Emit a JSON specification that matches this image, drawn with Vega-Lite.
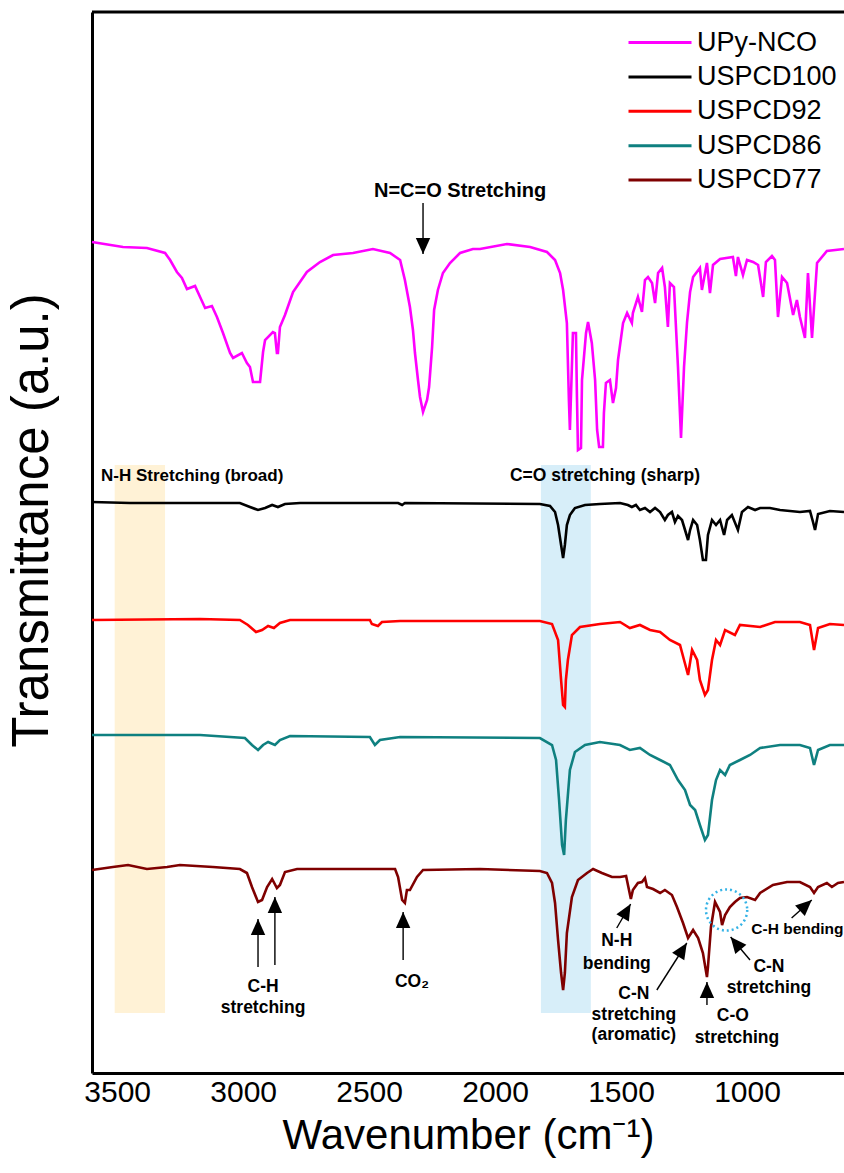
{
  "$schema": "https://vega.github.io/schema/vega-lite/v6.json",
  "width": 752,
  "height": 1061,
  "autosize": {"type": "none"},
  "padding": {"left": 92, "top": 12, "right": 0, "bottom": 100},
  "config": {
    "view": {"stroke": null},
    "font": "Liberation Sans",
    "axis": {"grid": false, "ticks": false, "domainColor": "#000000", "domainWidth": 3, "labelColor": "#000000", "titleColor": "#000000", "labelFont": "Liberation Sans", "titleFont": "Liberation Sans", "titleFontWeight": "normal"}
  },
  "datasets": {
    "spectra": [
      {"s":"UPy-NCO","w":3600,"t":83.1},{"s":"UPy-NCO","w":3477,"t":82.6},{"s":"UPy-NCO","w":3382,"t":82.5},{"s":"UPy-NCO","w":3310,"t":82.0},{"s":"UPy-NCO","w":3290,"t":81.3},{"s":"UPy-NCO","w":3263,"t":80.1},{"s":"UPy-NCO","w":3243,"t":79.5},{"s":"UPy-NCO","w":3223,"t":78.4},{"s":"UPy-NCO","w":3191,"t":78.7},{"s":"UPy-NCO","w":3171,"t":77.6},{"s":"UPy-NCO","w":3151,"t":76.5},{"s":"UPy-NCO","w":3124,"t":76.7},{"s":"UPy-NCO","w":3104,"t":75.6},{"s":"UPy-NCO","w":3080,"t":74.0},{"s":"UPy-NCO","w":3052,"t":72.0},{"s":"UPy-NCO","w":3040,"t":71.5},{"s":"UPy-NCO","w":3005,"t":72.0},{"s":"UPy-NCO","w":2985,"t":71.0},{"s":"UPy-NCO","w":2973,"t":70.6},{"s":"UPy-NCO","w":2961,"t":69.1},{"s":"UPy-NCO","w":2933,"t":69.1},{"s":"UPy-NCO","w":2921,"t":72.1},{"s":"UPy-NCO","w":2913,"t":73.3},{"s":"UPy-NCO","w":2882,"t":74.1},{"s":"UPy-NCO","w":2874,"t":74.0},{"s":"UPy-NCO","w":2866,"t":72.0},{"s":"UPy-NCO","w":2862,"t":72.0},{"s":"UPy-NCO","w":2854,"t":74.6},{"s":"UPy-NCO","w":2834,"t":75.8},{"s":"UPy-NCO","w":2802,"t":78.1},{"s":"UPy-NCO","w":2747,"t":80.1},{"s":"UPy-NCO","w":2695,"t":81.1},{"s":"UPy-NCO","w":2643,"t":81.8},{"s":"UPy-NCO","w":2564,"t":82.0},{"s":"UPy-NCO","w":2485,"t":82.4},{"s":"UPy-NCO","w":2417,"t":82.0},{"s":"UPy-NCO","w":2377,"t":81.3},{"s":"UPy-NCO","w":2358,"t":79.3},{"s":"UPy-NCO","w":2338,"t":76.6},{"s":"UPy-NCO","w":2326,"t":74.3},{"s":"UPy-NCO","w":2318,"t":72.0},{"s":"UPy-NCO","w":2306,"t":69.3},{"s":"UPy-NCO","w":2298,"t":67.6},{"s":"UPy-NCO","w":2286,"t":66.1},{"s":"UPy-NCO","w":2270,"t":67.3},{"s":"UPy-NCO","w":2262,"t":68.6},{"s":"UPy-NCO","w":2250,"t":72.6},{"s":"UPy-NCO","w":2242,"t":76.3},{"s":"UPy-NCO","w":2227,"t":78.3},{"s":"UPy-NCO","w":2207,"t":80.0},{"s":"UPy-NCO","w":2179,"t":81.0},{"s":"UPy-NCO","w":2139,"t":82.0},{"s":"UPy-NCO","w":2088,"t":82.4},{"s":"UPy-NCO","w":2060,"t":82.4},{"s":"UPy-NCO","w":1953,"t":82.9},{"s":"UPy-NCO","w":1861,"t":82.6},{"s":"UPy-NCO","w":1794,"t":82.1},{"s":"UPy-NCO","w":1762,"t":81.3},{"s":"UPy-NCO","w":1742,"t":80.0},{"s":"UPy-NCO","w":1730,"t":78.3},{"s":"UPy-NCO","w":1715,"t":75.0},{"s":"UPy-NCO","w":1707,"t":67.3},{"s":"UPy-NCO","w":1703,"t":64.3},{"s":"UPy-NCO","w":1691,"t":74.0},{"s":"UPy-NCO","w":1679,"t":74.0},{"s":"UPy-NCO","w":1675,"t":67.6},{"s":"UPy-NCO","w":1671,"t":62.3},{"s":"UPy-NCO","w":1659,"t":62.5},{"s":"UPy-NCO","w":1655,"t":69.3},{"s":"UPy-NCO","w":1639,"t":74.0},{"s":"UPy-NCO","w":1631,"t":75.1},{"s":"UPy-NCO","w":1616,"t":73.0},{"s":"UPy-NCO","w":1603,"t":69.3},{"s":"UPy-NCO","w":1595,"t":64.3},{"s":"UPy-NCO","w":1587,"t":62.6},{"s":"UPy-NCO","w":1572,"t":62.6},{"s":"UPy-NCO","w":1568,"t":66.0},{"s":"UPy-NCO","w":1560,"t":69.0},{"s":"UPy-NCO","w":1544,"t":69.3},{"s":"UPy-NCO","w":1532,"t":67.0},{"s":"UPy-NCO","w":1520,"t":68.5},{"s":"UPy-NCO","w":1512,"t":71.3},{"s":"UPy-NCO","w":1492,"t":75.0},{"s":"UPy-NCO","w":1476,"t":76.0},{"s":"UPy-NCO","w":1457,"t":75.0},{"s":"UPy-NCO","w":1453,"t":76.0},{"s":"UPy-NCO","w":1433,"t":77.6},{"s":"UPy-NCO","w":1417,"t":76.1},{"s":"UPy-NCO","w":1405,"t":79.3},{"s":"UPy-NCO","w":1393,"t":79.6},{"s":"UPy-NCO","w":1377,"t":79.0},{"s":"UPy-NCO","w":1365,"t":77.0},{"s":"UPy-NCO","w":1353,"t":80.0},{"s":"UPy-NCO","w":1337,"t":80.5},{"s":"UPy-NCO","w":1326,"t":78.6},{"s":"UPy-NCO","w":1314,"t":74.6},{"s":"UPy-NCO","w":1306,"t":79.0},{"s":"UPy-NCO","w":1290,"t":78.6},{"s":"UPy-NCO","w":1274,"t":70.6},{"s":"UPy-NCO","w":1262,"t":63.5},{"s":"UPy-NCO","w":1250,"t":70.6},{"s":"UPy-NCO","w":1238,"t":75.1},{"s":"UPy-NCO","w":1226,"t":78.1},{"s":"UPy-NCO","w":1214,"t":79.6},{"s":"UPy-NCO","w":1187,"t":80.5},{"s":"UPy-NCO","w":1179,"t":78.3},{"s":"UPy-NCO","w":1159,"t":81.0},{"s":"UPy-NCO","w":1147,"t":78.0},{"s":"UPy-NCO","w":1135,"t":80.8},{"s":"UPy-NCO","w":1107,"t":81.4},{"s":"UPy-NCO","w":1056,"t":81.6},{"s":"UPy-NCO","w":1044,"t":79.7},{"s":"UPy-NCO","w":1036,"t":81.6},{"s":"UPy-NCO","w":1016,"t":79.8},{"s":"UPy-NCO","w":1000,"t":81.3},{"s":"UPy-NCO","w":976,"t":81.1},{"s":"UPy-NCO","w":956,"t":80.8},{"s":"UPy-NCO","w":936,"t":77.6},{"s":"UPy-NCO","w":925,"t":81.1},{"s":"UPy-NCO","w":901,"t":81.7},{"s":"UPy-NCO","w":889,"t":81.3},{"s":"UPy-NCO","w":877,"t":75.6},{"s":"UPy-NCO","w":861,"t":79.6},{"s":"UPy-NCO","w":841,"t":79.0},{"s":"UPy-NCO","w":817,"t":75.8},{"s":"UPy-NCO","w":802,"t":77.3},{"s":"UPy-NCO","w":790,"t":75.6},{"s":"UPy-NCO","w":770,"t":73.5},{"s":"UPy-NCO","w":758,"t":80.0},{"s":"UPy-NCO","w":742,"t":73.5},{"s":"UPy-NCO","w":722,"t":81.0},{"s":"UPy-NCO","w":683,"t":82.2},{"s":"UPy-NCO","w":615,"t":82.4},

      {"s":"USPCD100","w":3600,"t":57.1},{"s":"USPCD100","w":3449,"t":57.0},{"s":"USPCD100","w":3013,"t":57.0},{"s":"USPCD100","w":2973,"t":56.6},{"s":"USPCD100","w":2941,"t":56.3},{"s":"USPCD100","w":2913,"t":56.5},{"s":"USPCD100","w":2885,"t":56.8},{"s":"USPCD100","w":2862,"t":56.6},{"s":"USPCD100","w":2834,"t":56.9},{"s":"USPCD100","w":2774,"t":57.0},{"s":"USPCD100","w":2385,"t":57.0},{"s":"USPCD100","w":2369,"t":56.8},{"s":"USPCD100","w":2358,"t":57.0},{"s":"USPCD100","w":1822,"t":56.9},{"s":"USPCD100","w":1782,"t":56.7},{"s":"USPCD100","w":1762,"t":56.1},{"s":"USPCD100","w":1750,"t":54.8},{"s":"USPCD100","w":1738,"t":52.8},{"s":"USPCD100","w":1730,"t":51.5},{"s":"USPCD100","w":1723,"t":52.8},{"s":"USPCD100","w":1715,"t":54.8},{"s":"USPCD100","w":1703,"t":55.8},{"s":"USPCD100","w":1683,"t":56.5},{"s":"USPCD100","w":1643,"t":56.8},{"s":"USPCD100","w":1584,"t":56.9},{"s":"USPCD100","w":1504,"t":57.0},{"s":"USPCD100","w":1473,"t":56.8},{"s":"USPCD100","w":1457,"t":56.6},{"s":"USPCD100","w":1441,"t":56.8},{"s":"USPCD100","w":1425,"t":56.3},{"s":"USPCD100","w":1405,"t":56.5},{"s":"USPCD100","w":1385,"t":56.1},{"s":"USPCD100","w":1365,"t":56.5},{"s":"USPCD100","w":1345,"t":56.1},{"s":"USPCD100","w":1326,"t":55.3},{"s":"USPCD100","w":1314,"t":55.8},{"s":"USPCD100","w":1298,"t":56.1},{"s":"USPCD100","w":1286,"t":55.1},{"s":"USPCD100","w":1274,"t":55.7},{"s":"USPCD100","w":1258,"t":55.3},{"s":"USPCD100","w":1246,"t":54.3},{"s":"USPCD100","w":1234,"t":53.3},{"s":"USPCD100","w":1226,"t":54.3},{"s":"USPCD100","w":1214,"t":55.3},{"s":"USPCD100","w":1198,"t":54.8},{"s":"USPCD100","w":1187,"t":53.3},{"s":"USPCD100","w":1175,"t":51.3},{"s":"USPCD100","w":1163,"t":51.3},{"s":"USPCD100","w":1155,"t":53.8},{"s":"USPCD100","w":1139,"t":55.3},{"s":"USPCD100","w":1123,"t":54.8},{"s":"USPCD100","w":1107,"t":55.3},{"s":"USPCD100","w":1091,"t":53.8},{"s":"USPCD100","w":1079,"t":55.3},{"s":"USPCD100","w":1060,"t":55.8},{"s":"USPCD100","w":1036,"t":54.3},{"s":"USPCD100","w":1020,"t":56.1},{"s":"USPCD100","w":996,"t":56.6},{"s":"USPCD100","w":968,"t":56.3},{"s":"USPCD100","w":948,"t":56.5},{"s":"USPCD100","w":909,"t":56.5},{"s":"USPCD100","w":869,"t":56.3},{"s":"USPCD100","w":790,"t":56.1},{"s":"USPCD100","w":750,"t":56.2},{"s":"USPCD100","w":738,"t":55.1},{"s":"USPCD100","w":730,"t":54.3},{"s":"USPCD100","w":718,"t":55.9},{"s":"USPCD100","w":671,"t":56.2},{"s":"USPCD100","w":615,"t":56.1},

      {"s":"USPCD92","w":3600,"t":45.3},{"s":"USPCD92","w":3171,"t":45.4},{"s":"USPCD92","w":3013,"t":45.3},{"s":"USPCD92","w":2981,"t":44.8},{"s":"USPCD92","w":2949,"t":44.1},{"s":"USPCD92","w":2925,"t":44.3},{"s":"USPCD92","w":2901,"t":44.7},{"s":"USPCD92","w":2878,"t":44.5},{"s":"USPCD92","w":2854,"t":45.0},{"s":"USPCD92","w":2814,"t":45.3},{"s":"USPCD92","w":2497,"t":45.3},{"s":"USPCD92","w":2489,"t":44.9},{"s":"USPCD92","w":2465,"t":44.7},{"s":"USPCD92","w":2449,"t":45.1},{"s":"USPCD92","w":2377,"t":45.2},{"s":"USPCD92","w":1822,"t":45.2},{"s":"USPCD92","w":1774,"t":44.9},{"s":"USPCD92","w":1750,"t":43.3},{"s":"USPCD92","w":1738,"t":39.3},{"s":"USPCD92","w":1730,"t":36.8},{"s":"USPCD92","w":1723,"t":36.6},{"s":"USPCD92","w":1719,"t":39.3},{"s":"USPCD92","w":1711,"t":41.3},{"s":"USPCD92","w":1695,"t":43.8},{"s":"USPCD92","w":1663,"t":44.6},{"s":"USPCD92","w":1584,"t":44.9},{"s":"USPCD92","w":1504,"t":45.1},{"s":"USPCD92","w":1465,"t":44.5},{"s":"USPCD92","w":1425,"t":44.8},{"s":"USPCD92","w":1385,"t":44.3},{"s":"USPCD92","w":1345,"t":44.1},{"s":"USPCD92","w":1306,"t":43.3},{"s":"USPCD92","w":1266,"t":42.8},{"s":"USPCD92","w":1250,"t":41.3},{"s":"USPCD92","w":1234,"t":39.8},{"s":"USPCD92","w":1218,"t":42.3},{"s":"USPCD92","w":1198,"t":41.3},{"s":"USPCD92","w":1187,"t":39.3},{"s":"USPCD92","w":1167,"t":37.8},{"s":"USPCD92","w":1155,"t":38.3},{"s":"USPCD92","w":1139,"t":41.3},{"s":"USPCD92","w":1123,"t":43.3},{"s":"USPCD92","w":1107,"t":42.8},{"s":"USPCD92","w":1087,"t":44.3},{"s":"USPCD92","w":1048,"t":43.8},{"s":"USPCD92","w":1028,"t":44.8},{"s":"USPCD92","w":948,"t":44.6},{"s":"USPCD92","w":889,"t":45.1},{"s":"USPCD92","w":790,"t":45.1},{"s":"USPCD92","w":750,"t":44.8},{"s":"USPCD92","w":734,"t":42.3},{"s":"USPCD92","w":718,"t":44.5},{"s":"USPCD92","w":671,"t":44.9},{"s":"USPCD92","w":615,"t":44.8},

      {"s":"USPCD86","w":3600,"t":33.8},{"s":"USPCD86","w":3171,"t":33.8},{"s":"USPCD86","w":2993,"t":33.5},{"s":"USPCD86","w":2965,"t":32.8},{"s":"USPCD86","w":2941,"t":32.3},{"s":"USPCD86","w":2921,"t":32.8},{"s":"USPCD86","w":2901,"t":33.1},{"s":"USPCD86","w":2874,"t":32.8},{"s":"USPCD86","w":2854,"t":33.3},{"s":"USPCD86","w":2814,"t":33.7},{"s":"USPCD86","w":2497,"t":33.6},{"s":"USPCD86","w":2477,"t":32.8},{"s":"USPCD86","w":2457,"t":33.3},{"s":"USPCD86","w":2377,"t":33.6},{"s":"USPCD86","w":1822,"t":33.5},{"s":"USPCD86","w":1774,"t":32.8},{"s":"USPCD86","w":1758,"t":31.3},{"s":"USPCD86","w":1746,"t":27.3},{"s":"USPCD86","w":1734,"t":22.8},{"s":"USPCD86","w":1726,"t":21.8},{"s":"USPCD86","w":1719,"t":25.3},{"s":"USPCD86","w":1703,"t":30.3},{"s":"USPCD86","w":1683,"t":32.1},{"s":"USPCD86","w":1643,"t":32.8},{"s":"USPCD86","w":1584,"t":33.1},{"s":"USPCD86","w":1504,"t":32.8},{"s":"USPCD86","w":1465,"t":32.3},{"s":"USPCD86","w":1425,"t":32.5},{"s":"USPCD86","w":1385,"t":31.8},{"s":"USPCD86","w":1345,"t":31.3},{"s":"USPCD86","w":1306,"t":30.8},{"s":"USPCD86","w":1274,"t":29.3},{"s":"USPCD86","w":1246,"t":28.3},{"s":"USPCD86","w":1226,"t":26.8},{"s":"USPCD86","w":1206,"t":26.3},{"s":"USPCD86","w":1187,"t":24.8},{"s":"USPCD86","w":1167,"t":23.3},{"s":"USPCD86","w":1155,"t":23.8},{"s":"USPCD86","w":1139,"t":27.3},{"s":"USPCD86","w":1123,"t":29.3},{"s":"USPCD86","w":1107,"t":30.3},{"s":"USPCD86","w":1087,"t":29.8},{"s":"USPCD86","w":1068,"t":30.8},{"s":"USPCD86","w":1028,"t":31.3},{"s":"USPCD86","w":988,"t":31.8},{"s":"USPCD86","w":948,"t":32.5},{"s":"USPCD86","w":869,"t":32.8},{"s":"USPCD86","w":790,"t":32.8},{"s":"USPCD86","w":750,"t":32.5},{"s":"USPCD86","w":734,"t":30.8},{"s":"USPCD86","w":718,"t":32.3},{"s":"USPCD86","w":671,"t":32.8},{"s":"USPCD86","w":615,"t":32.8},

      {"s":"USPCD77","w":3600,"t":20.3},{"s":"USPCD77","w":3517,"t":20.6},{"s":"USPCD77","w":3457,"t":20.8},{"s":"USPCD77","w":3382,"t":20.4},{"s":"USPCD77","w":3302,"t":20.6},{"s":"USPCD77","w":3251,"t":20.8},{"s":"USPCD77","w":3120,"t":20.6},{"s":"USPCD77","w":3013,"t":20.4},{"s":"USPCD77","w":2985,"t":20.0},{"s":"USPCD77","w":2965,"t":18.6},{"s":"USPCD77","w":2941,"t":17.1},{"s":"USPCD77","w":2925,"t":17.3},{"s":"USPCD77","w":2905,"t":18.6},{"s":"USPCD77","w":2885,"t":19.4},{"s":"USPCD77","w":2866,"t":18.5},{"s":"USPCD77","w":2854,"t":18.8},{"s":"USPCD77","w":2834,"t":20.1},{"s":"USPCD77","w":2786,"t":20.4},{"s":"USPCD77","w":2588,"t":20.4},{"s":"USPCD77","w":2397,"t":20.4},{"s":"USPCD77","w":2385,"t":19.6},{"s":"USPCD77","w":2369,"t":17.3},{"s":"USPCD77","w":2358,"t":17.0},{"s":"USPCD77","w":2350,"t":18.3},{"s":"USPCD77","w":2338,"t":18.3},{"s":"USPCD77","w":2310,"t":19.6},{"s":"USPCD77","w":2286,"t":20.3},{"s":"USPCD77","w":2060,"t":20.4},{"s":"USPCD77","w":1822,"t":20.2},{"s":"USPCD77","w":1794,"t":20.0},{"s":"USPCD77","w":1774,"t":19.0},{"s":"USPCD77","w":1762,"t":17.0},{"s":"USPCD77","w":1750,"t":13.3},{"s":"USPCD77","w":1738,"t":10.0},{"s":"USPCD77","w":1730,"t":8.3},{"s":"USPCD77","w":1723,"t":10.0},{"s":"USPCD77","w":1715,"t":14.0},{"s":"USPCD77","w":1695,"t":17.6},{"s":"USPCD77","w":1671,"t":19.3},{"s":"USPCD77","w":1635,"t":20.0},{"s":"USPCD77","w":1611,"t":20.4},{"s":"USPCD77","w":1576,"t":20.0},{"s":"USPCD77","w":1536,"t":19.6},{"s":"USPCD77","w":1504,"t":19.6},{"s":"USPCD77","w":1480,"t":19.7},{"s":"USPCD77","w":1461,"t":17.4},{"s":"USPCD77","w":1453,"t":18.3},{"s":"USPCD77","w":1433,"t":19.0},{"s":"USPCD77","w":1417,"t":19.1},{"s":"USPCD77","w":1405,"t":19.5},{"s":"USPCD77","w":1397,"t":18.6},{"s":"USPCD77","w":1373,"t":18.4},{"s":"USPCD77","w":1345,"t":18.0},{"s":"USPCD77","w":1326,"t":18.3},{"s":"USPCD77","w":1298,"t":17.8},{"s":"USPCD77","w":1278,"t":16.6},{"s":"USPCD77","w":1254,"t":15.0},{"s":"USPCD77","w":1234,"t":13.5},{"s":"USPCD77","w":1214,"t":14.3},{"s":"USPCD77","w":1194,"t":13.5},{"s":"USPCD77","w":1175,"t":12.0},{"s":"USPCD77","w":1159,"t":9.6},{"s":"USPCD77","w":1155,"t":10.6},{"s":"USPCD77","w":1143,"t":14.6},{"s":"USPCD77","w":1127,"t":17.1},{"s":"USPCD77","w":1107,"t":16.1},{"s":"USPCD77","w":1099,"t":14.8},{"s":"USPCD77","w":1087,"t":15.8},{"s":"USPCD77","w":1068,"t":16.6},{"s":"USPCD77","w":1048,"t":17.1},{"s":"USPCD77","w":1028,"t":17.5},{"s":"USPCD77","w":1000,"t":17.6},{"s":"USPCD77","w":968,"t":17.3},{"s":"USPCD77","w":948,"t":18.0},{"s":"USPCD77","w":897,"t":18.8},{"s":"USPCD77","w":841,"t":19.1},{"s":"USPCD77","w":790,"t":19.1},{"s":"USPCD77","w":750,"t":18.6},{"s":"USPCD77","w":734,"t":18.0},{"s":"USPCD77","w":718,"t":18.6},{"s":"USPCD77","w":683,"t":19.0},{"s":"USPCD77","w":663,"t":18.6},{"s":"USPCD77","w":639,"t":19.0},{"s":"USPCD77","w":615,"t":19.1}
    ],
    "regions": [
      {"band":"N-H","w":3510,"w2":3310,"t":60.8,"t2":6.0},
      {"band":"C=O","w":1818,"w2":1620,"t":60.8,"t2":6.0}
    ],
    "arrows": [
      {"id":"nco","w":2286,"t":87.0,"w2":2286,"t2":81.9},
      {"id":"ch1","w":2941,"t":10.6,"w2":2941,"t2":15.4},
      {"id":"ch2","w":2874,"t":10.8,"w2":2874,"t2":17.6},
      {"id":"co2","w":2365,"t":11.3,"w2":2365,"t2":16.1},
      {"id":"nhb","w":1517,"t":14.5,"w2":1462,"t2":16.9},
      {"id":"cna","w":1358,"t":8.3,"w2":1239,"t2":13.0},
      {"id":"cos","w":1159,"t":6.8,"w2":1159,"t2":9.1},
      {"id":"cns","w":988,"t":11.3,"w2":1065,"t2":13.6},
      {"id":"chb","w":823,"t":15.5,"w2":743,"t2":17.3}
    ],
    "labels": [
      {"g":"nco","label":"N=C=O Stretching","w":2139,"t":88.2},
      {"g":"bandL","label":"N-H Stretching (broad)","w":3564,"t":59.7},
      {"g":"bandC","label":"C=O stretching (sharp)","w":1564,"t":59.7},
      {"g":"ann","label":"C-H","w":2921,"t":8.6},
      {"g":"ann","label":"stretching","w":2921,"t":6.5},
      {"g":"ann","label":"CO₂","w":2330,"t":9.1},
      {"g":"ann","label":"N-H","w":1517,"t":13.2},
      {"g":"ann","label":"bending","w":1517,"t":10.9},
      {"g":"ann","label":"C-N","w":1449,"t":7.9},
      {"g":"ann","label":"stretching","w":1449,"t":5.8},
      {"g":"ann","label":"(aromatic)","w":1449,"t":3.8},
      {"g":"ann","label":"C-O","w":1056,"t":5.7},
      {"g":"ann","label":"stretching","w":1040,"t":3.5},
      {"g":"ann","label":"C-N","w":913,"t":10.6},
      {"g":"ann","label":"stretching","w":913,"t":8.5},
      {"g":"small","label":"C-H bending","w":800,"t":14.4}
    ],
    "circle": [{"w":1081,"t":16.3}]
  },
  "encoding": {
    "x": {"field": "w", "type": "quantitative", "scale": {"domain": [3600, 615], "nice": false, "zero": false},
      "axis": {"title": "Wavenumber (cm⁻¹)", "values": [3500, 3000, 2500, 2000, 1500, 1000], "labelFontSize": 30, "titleFontSize": 42, "labelPadding": 4, "titlePadding": 8, "format": "d"}},
    "y": {"field": "t", "type": "quantitative", "scale": {"domain": [0, 106.1], "nice": false, "zero": false},
      "axis": {"title": "Transmittance (a.u.)", "labels": false, "titleFontSize": 51, "titlePadding": 34, "titleY": 508}}
  },
  "layer": [
    {
      "data": {"name": "regions"},
      "transform": [{"filter": "datum.band === 'N-H'"}],
      "mark": {"type": "rect", "color": "#FFF2D6"},
      "encoding": {"x2": {"field": "w2"}, "y2": {"field": "t2"}}
    },
    {
      "data": {"name": "regions"},
      "transform": [{"filter": "datum.band === 'C=O'"}],
      "mark": {"type": "rect", "color": "#D7EEF9"},
      "encoding": {"x2": {"field": "w2"}, "y2": {"field": "t2"}}
    },
    {
      "data": {"name": "circle"},
      "mark": {"type": "rule", "color": "#000000", "strokeWidth": 3},
      "encoding": {"x": null, "y": {"datum": 106.1, "type": "quantitative"}}
    },
    {
      "data": {"name": "spectra"},
      "mark": {"type": "line", "strokeWidth": 2.6, "interpolate": "linear"},
      "encoding": {
        "color": {"field": "s", "type": "nominal",
          "scale": {"domain": ["UPy-NCO", "USPCD100", "USPCD92", "USPCD86", "USPCD77"], "range": ["#FF00FF", "#000000", "#FF0000", "#0F8080", "#7F0000"]},
          "legend": {"title": null, "orient": "none", "legendX": 534.5, "legendY": 17, "symbolType": "M-3,0H3", "symbolSize": 441, "symbolStrokeWidth": 3, "symbolOffset": 20, "labelFontSize": 27, "labelFont": "Liberation Sans", "labelColor": "#000000", "labelOffset": 23.5, "labelLimit": 400, "rowPadding": 6.4, "padding": 0}
        }
      }
    },
    {
      "data": {"name": "circle"},
      "mark": {"type": "point", "shape": "circle", "size": 1700, "filled": false, "stroke": "#35B3E6", "strokeWidth": 2.5, "strokeDash": [2, 3], "opacity": 1}
    },
    {
      "data": {"name": "arrows"},
      "mark": {"type": "rule", "color": "#000000", "strokeWidth": 1.4},
      "encoding": {"x2": {"field": "w2"}, "y2": {"field": "t2"}}
    },
    {
      "data": {"name": "arrows"},
      "transform": [{"filter": "datum.id === 'ch1' || datum.id === 'ch2' || datum.id === 'co2' || datum.id === 'cos'"}],
      "mark": {"type": "point", "shape": "M0,-1L-0.9,1L0.9,1Z", "size": 256, "filled": true, "color": "#000000", "opacity": 1, "yOffset": 8},
      "encoding": {"x": {"field": "w2", "type": "quantitative"}, "y": {"field": "t2", "type": "quantitative"}}
    },
    {
      "data": {"name": "arrows"},
      "transform": [{"filter": "datum.id === 'nco'"}],
      "mark": {"type": "point", "shape": "M0,-1L-0.9,1L0.9,1Z", "size": 256, "filled": true, "color": "#000000", "opacity": 1, "angle": 180, "yOffset": -8},
      "encoding": {"x": {"field": "w2", "type": "quantitative"}, "y": {"field": "t2", "type": "quantitative"}}
    },
    {
      "data": {"name": "arrows"},
      "transform": [{"filter": "datum.id === 'nhb'"}],
      "mark": {"type": "point", "shape": "M0,-1L-0.9,1L0.9,1Z", "size": 256, "filled": true, "color": "#000000", "opacity": 1, "angle": 30, "xOffset": -4, "yOffset": 6.9},
      "encoding": {"x": {"field": "w2", "type": "quantitative"}, "y": {"field": "t2", "type": "quantitative"}}
    },
    {
      "data": {"name": "arrows"},
      "transform": [{"filter": "datum.id === 'cna'"}],
      "mark": {"type": "point", "shape": "M0,-1L-0.9,1L0.9,1Z", "size": 256, "filled": true, "color": "#000000", "opacity": 1, "angle": 32.5, "xOffset": -4.3, "yOffset": 6.75},
      "encoding": {"x": {"field": "w2", "type": "quantitative"}, "y": {"field": "t2", "type": "quantitative"}}
    },
    {
      "data": {"name": "arrows"},
      "transform": [{"filter": "datum.id === 'cns'"}],
      "mark": {"type": "point", "shape": "M0,-1L-0.9,1L0.9,1Z", "size": 256, "filled": true, "color": "#000000", "opacity": 1, "angle": -39.6, "xOffset": 5.1, "yOffset": 6.2},
      "encoding": {"x": {"field": "w2", "type": "quantitative"}, "y": {"field": "t2", "type": "quantitative"}}
    },
    {
      "data": {"name": "arrows"},
      "transform": [{"filter": "datum.id === 'chb'"}],
      "mark": {"type": "point", "shape": "M0,-1L-0.9,1L0.9,1Z", "size": 256, "filled": true, "color": "#000000", "opacity": 1, "angle": 47.5, "xOffset": -5.9, "yOffset": 5.4},
      "encoding": {"x": {"field": "w2", "type": "quantitative"}, "y": {"field": "t2", "type": "quantitative"}}
    },
    {
      "data": {"name": "labels"},
      "transform": [{"filter": "datum.g === 'nco'"}],
      "mark": {"type": "text", "font": "Liberation Sans", "fontSize": 20, "fontWeight": "bold", "color": "#000000", "align": "center", "baseline": "middle"},
      "encoding": {"text": {"field": "label"}}
    },
    {
      "data": {"name": "labels"},
      "transform": [{"filter": "datum.g === 'bandL'"}],
      "mark": {"type": "text", "font": "Liberation Sans", "fontSize": 17, "fontWeight": "bold", "color": "#000000", "align": "left", "baseline": "middle"},
      "encoding": {"text": {"field": "label"}}
    },
    {
      "data": {"name": "labels"},
      "transform": [{"filter": "datum.g === 'bandC' || datum.g === 'ann'"}],
      "mark": {"type": "text", "font": "Liberation Sans", "fontSize": 17.5, "fontWeight": "bold", "color": "#000000", "align": "center", "baseline": "middle"},
      "encoding": {"text": {"field": "label"}}
    },
    {
      "data": {"name": "labels"},
      "transform": [{"filter": "datum.g === 'small'"}],
      "mark": {"type": "text", "font": "Liberation Sans", "fontSize": 15.5, "fontWeight": "bold", "color": "#000000", "align": "center", "baseline": "middle"},
      "encoding": {"text": {"field": "label"}}
    }
  ]
}
